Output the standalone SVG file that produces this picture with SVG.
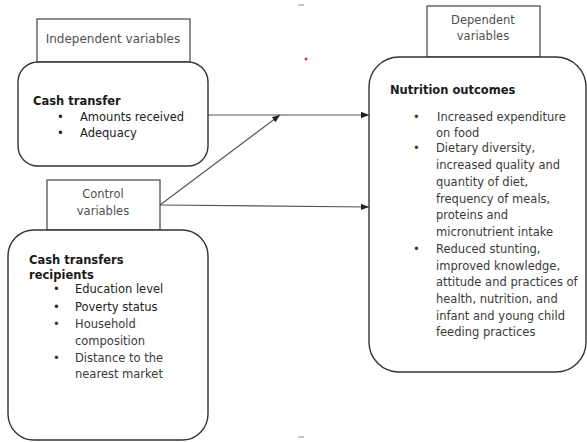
<svg xmlns="http://www.w3.org/2000/svg" width="587" height="442" viewBox="0 0 587 442">
<style>
.box{fill:#fff;stroke:#333;stroke-width:1.4}
.lbl{fill:#fff;stroke:#444;stroke-width:1.2}
text{font-family:"DejaVu Sans",Verdana,sans-serif;font-size:11.5px;fill:#3a3a3a}
.h{font-weight:bold;fill:#1a1a1a;font-size:11.5px}
.c{text-anchor:middle;fill:#505050}
.big{font-size:12px}
.dk{fill:#222}
.conn{stroke:#555;stroke-width:1.1;fill:none}
</style>
<defs>
<marker id="ah" viewBox="0 0 10 10" refX="10" refY="5" markerWidth="8" markerHeight="8" markerUnits="userSpaceOnUse" orient="auto">
<path d="M0,1 L10,5 L0,9 z" fill="#222"/>
</marker>
</defs>
<rect width="587" height="442" fill="#fff"/>
<g id="connectors">
<line class="conn" x1="208" y1="115" x2="369" y2="115" marker-end="url(#ah)"/>
<line class="conn" x1="160" y1="205" x2="280" y2="115" marker-end="url(#ah)"/>
<line class="conn" x1="160" y1="205" x2="369" y2="207" marker-end="url(#ah)"/>
</g>
<g id="independent-label">
<rect class="lbl" x="37" y="19" width="153" height="43"/>
<text class="c big" x="113" y="43">Independent variables</text>
</g>
<g id="cash-transfer">
<rect class="box" x="18" y="62" width="190" height="104" rx="20"/>
<text class="h" x="33" y="105">Cash transfer</text>
<text class="dk" x="57" y="121">•</text><text class="dk" x="80" y="121">Amounts received</text>
<text class="dk" x="57" y="137">•</text><text class="dk" x="80" y="137">Adequacy</text>
</g>
<g id="control-label">
<rect class="lbl" x="47" y="180" width="113" height="50"/>
<text class="c" x="103" y="198">Control</text>
<text class="c" x="103" y="215">variables</text>
</g>
<g id="recipients">
<rect class="box" x="8" y="230" width="200" height="210" rx="26"/>
<text class="h" x="29" y="264">Cash transfers</text>
<text class="h" x="29" y="279">recipients</text>
<text class="dk" x="53" y="293">•</text><text class="dk" x="75" y="293">Education level</text>
<text class="dk" x="53" y="311">•</text><text class="dk" x="75" y="311">Poverty status</text>
<text x="53" y="328">•</text><text x="75" y="328">Household</text>
<text x="75" y="345">composition</text>
<text x="53" y="362">•</text><text x="75" y="362">Distance to the</text>
<text x="75" y="378">nearest market</text>
</g>
<g id="dependent-label">
<rect class="lbl" x="427" y="6" width="113" height="51"/>
<text class="c" x="483" y="24">Dependent</text>
<text class="c" x="483" y="40">variables</text>
</g>
<g id="nutrition-outcomes">
<rect class="box" x="369" y="57" width="217" height="315" rx="30"/>
<text class="h" x="390" y="94">Nutrition outcomes</text>
<text x="413" y="121">•</text><text x="437" y="121">Increased expenditure</text>
<text x="436" y="137">on food</text>
<text x="413" y="152">•</text><text x="436" y="152">Dietary diversity,</text>
<text x="436" y="169">increased quality and</text>
<text x="436" y="186">quantity of diet,</text>
<text x="436" y="203">frequency of meals,</text>
<text x="436" y="219">proteins and</text>
<text x="436" y="236">micronutrient intake</text>
<text x="413" y="253">•</text><text x="436" y="253">Reduced stunting,</text>
<text x="436" y="270">improved knowledge,</text>
<text x="436" y="286">attitude and practices of</text>
<text x="436" y="303">health, nutrition, and</text>
<text x="436" y="320">infant and young child</text>
<text x="436" y="336">feeding practices</text>
</g>
<circle cx="306" cy="59" r="1.5" fill="#e0304a"/>
<line x1="298" y1="5" x2="304" y2="5" stroke="#888" stroke-width="1"/>
<line x1="298" y1="437" x2="304" y2="437" stroke="#888" stroke-width="1"/>
</svg>
